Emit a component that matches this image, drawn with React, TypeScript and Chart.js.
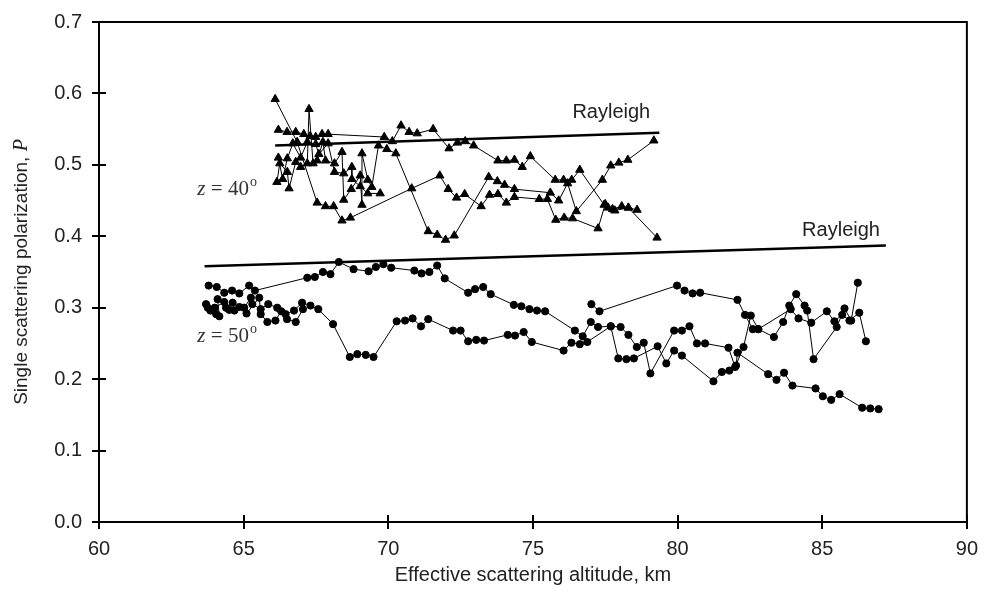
import React, { useEffect, useRef } from 'react';
import { Chart, registerables } from 'chart.js';

Chart.register(...registerables);

// ---------- axes ----------
const X_MIN = 60;
const X_MAX = 90;
const X_STEP = 5;
const Y_MIN = 0;
const Y_MAX = 0.7;
const Y_STEP = 0.1;

// ---------- z = 40° (triangles) ----------
const tri1: number[][] = [
  [66.2, 0.549], [66.5, 0.546], [66.8, 0.546], [67.08, 0.543], [67.3, 0.54], [67.49, 0.539],
  [67.71, 0.543], [67.92, 0.543], [69.86, 0.539], [70.14, 0.533], [70.44, 0.555], [70.72, 0.546],
  [71.0, 0.544], [71.55, 0.55], [72.1, 0.523], [72.39, 0.531], [72.66, 0.533], [72.95, 0.527],
  [73.79, 0.506], [74.08, 0.506], [74.36, 0.507], [74.63, 0.497], [74.91, 0.512], [75.77, 0.479],
  [76.06, 0.479], [76.34, 0.479], [76.62, 0.493], [77.46, 0.444], [77.6, 0.44], [77.83, 0.436],
  [78.3, 0.44], [79.29, 0.398],
];
const tri2: number[][] = [
  [66.09, 0.592], [66.85, 0.532], [67.54, 0.447], [67.83, 0.442], [68.11, 0.442], [68.4, 0.422],
  [68.69, 0.426], [70.81, 0.467], [71.78, 0.485], [72.07, 0.466], [72.36, 0.454], [72.64, 0.459],
  [73.21, 0.442], [73.5, 0.458], [73.79, 0.459], [74.08, 0.447], [74.36, 0.455], [75.22, 0.452],
  [75.5, 0.452], [75.79, 0.423], [76.08, 0.426], [76.37, 0.425], [77.25, 0.411], [77.5, 0.445],
  [77.75, 0.438], [78.07, 0.442], [78.3, 0.44], [78.6, 0.437],
];
const tri3: number[][] = [
  [66.15, 0.476], [66.25, 0.502], [66.51, 0.49], [66.57, 0.467], [66.8, 0.504], [66.97, 0.497],
  [67.2, 0.502], [67.26, 0.578], [67.4, 0.502], [67.54, 0.506], [67.74, 0.532], [67.83, 0.506],
  [68.14, 0.502], [68.4, 0.518], [68.46, 0.451], [68.72, 0.466], [69.03, 0.485], [69.09, 0.444],
  [69.09, 0.516], [69.29, 0.479], [69.43, 0.469], [69.66, 0.527], [69.95, 0.522], [70.26, 0.516],
  [71.38, 0.407], [71.69, 0.402], [71.98, 0.395], [72.28, 0.401], [73.47, 0.483], [73.77, 0.477],
  [74.02, 0.472], [74.36, 0.466], [75.6, 0.461], [75.89, 0.45], [76.2, 0.474], [76.5, 0.435],
  [77.4, 0.479], [77.69, 0.499], [77.97, 0.503], [78.28, 0.507], [79.18, 0.534],
];
const tri4: number[][] = [
  [66.2, 0.51], [66.35, 0.48], [66.51, 0.509], [66.7, 0.53], [66.97, 0.51], [67.2, 0.532],
  [67.49, 0.529], [67.6, 0.515], [67.92, 0.53], [68.14, 0.49], [68.46, 0.488], [68.74, 0.497],
  [68.74, 0.48], [69.03, 0.47], [69.29, 0.46], [69.72, 0.46],
];

// ---------- z = 50° (circles) ----------
const circ1: number[][] = [
  [63.79, 0.331], [64.07, 0.329], [64.33, 0.321], [64.6, 0.324], [64.85, 0.32], [65.19, 0.331],
  [65.39, 0.324], [67.2, 0.342], [67.46, 0.343], [67.74, 0.35], [68.0, 0.347], [68.29, 0.364],
  [68.8, 0.354], [69.32, 0.351], [69.57, 0.357], [69.83, 0.361], [70.1, 0.356], [70.9, 0.352],
  [71.15, 0.348], [71.42, 0.35], [71.69, 0.359], [71.95, 0.341], [72.76, 0.321], [73.0, 0.326],
  [73.28, 0.329], [73.54, 0.319], [74.34, 0.304], [74.6, 0.302], [74.88, 0.298], [75.14, 0.296],
  [75.42, 0.295], [76.45, 0.268], [76.72, 0.26], [77.0, 0.28], [77.25, 0.273], [77.69, 0.274],
  [77.95, 0.229], [78.23, 0.228], [78.49, 0.229], [79.31, 0.246], [79.61, 0.222], [79.88, 0.24],
  [80.15, 0.233], [81.24, 0.197], [81.53, 0.21], [81.79, 0.212], [82.02, 0.219], [82.07, 0.237],
  [83.13, 0.207], [83.42, 0.199], [83.68, 0.209], [83.97, 0.191], [84.77, 0.187], [85.02, 0.176],
  [85.31, 0.171], [85.6, 0.179], [86.38, 0.16], [86.66, 0.159], [86.95, 0.158],
];
const circ2: number[][] = [
  [63.76, 0.3], [64.05, 0.291], [64.16, 0.288], [64.1, 0.312], [64.39, 0.3], [64.62, 0.307],
  [64.68, 0.296], [65.02, 0.3], [65.25, 0.314], [65.3, 0.305], [65.59, 0.298], [65.85, 0.305],
  [66.16, 0.3], [66.45, 0.291], [66.74, 0.296], [67.02, 0.307], [67.31, 0.303], [67.58, 0.298],
  [68.09, 0.277], [68.67, 0.231], [68.93, 0.235], [69.22, 0.234], [69.49, 0.231], [70.29, 0.281],
  [70.58, 0.282], [70.84, 0.285], [71.13, 0.274], [71.38, 0.284], [72.24, 0.268], [72.5, 0.268],
  [72.76, 0.253], [73.04, 0.255], [73.31, 0.254], [74.13, 0.262], [74.38, 0.261], [74.68, 0.266],
  [74.96, 0.252], [76.06, 0.24], [76.33, 0.251], [76.62, 0.249], [76.88, 0.252], [77.69, 0.274],
  [78.03, 0.273], [78.3, 0.262], [78.59, 0.245], [78.83, 0.251], [79.06, 0.208], [79.88, 0.268],
  [80.15, 0.268], [80.41, 0.274], [80.67, 0.25], [80.95, 0.25], [81.76, 0.244], [81.99, 0.217],
  [82.28, 0.245], [82.53, 0.289], [82.79, 0.27], [83.91, 0.298], [84.18, 0.285], [84.62, 0.279],
  [85.16, 0.295], [85.42, 0.281], [85.69, 0.29], [85.94, 0.282], [86.28, 0.293], [86.51, 0.253],
];
const circ3: number[][] = [
  [77.02, 0.305], [77.3, 0.295], [79.98, 0.331], [80.24, 0.324], [80.52, 0.32], [80.78, 0.321],
  [82.07, 0.311], [82.33, 0.29], [82.6, 0.27], [82.79, 0.27], [83.33, 0.259], [83.65, 0.28],
  [83.86, 0.303], [84.1, 0.319], [84.39, 0.303], [84.48, 0.296], [84.7, 0.228], [85.5, 0.273],
  [85.77, 0.299], [86.0, 0.282], [86.23, 0.335],
];
const circ4: number[][] = [
  [63.7, 0.305], [63.85, 0.296], [64.0, 0.3], [64.33, 0.308], [64.5, 0.297], [64.85, 0.301],
  [65.1, 0.292], [65.54, 0.314], [65.59, 0.291], [65.82, 0.28], [66.1, 0.282], [66.3, 0.295],
  [66.5, 0.284], [66.8, 0.28], [67.05, 0.298],
];

// ---------- Rayleigh reference lines ----------
const rayleigh40: number[][] = [[66.09, 0.527], [79.37, 0.545]];
const rayleigh50: number[][] = [[63.65, 0.358], [87.2, 0.387]];

// ---------- text ----------
const X_TITLE = 'Effective scattering altitude, km';
const Y_TITLE = 'Single scattering polarization, ';
const Y_TITLE_VAR = 'P';
const RAYLEIGH_TEXT = 'Rayleigh';
const Z40_VALUE = '40';
const Z50_VALUE = '50';
// anchors in data coordinates
const RAYLEIGH40_AT = [77.71, 0.565];
const RAYLEIGH50_AT = [85.65, 0.401];
const Z40_AT = [63.4, 0.458];
const Z50_AT = [63.4, 0.252];

const SANS = '"Liberation Sans", Arial, sans-serif';
const SERIF = '"Liberation Serif", "Times New Roman", serif';

const toPts = (a: number[][]) => a.map(([x, y]) => ({ x, y }));

const decorPlugin = {
  id: 'decor',
  afterDraw(chart: any) {
    const { ctx, chartArea: a, scales } = chart;
    const xs = scales.x;
    const ys = scales.y;
    ctx.save();
    // frame
    ctx.strokeStyle = '#000';
    ctx.lineWidth = 2;
    ctx.strokeRect(a.left, a.top, a.right - a.left, a.bottom - a.top);
    // inner tick marks
    ctx.beginPath();
    xs.ticks.forEach((t: any) => {
      const px = Math.round(xs.getPixelForValue(t.value));
      ctx.moveTo(px, a.bottom);
      ctx.lineTo(px, a.bottom - 7);
    });
    ys.ticks.forEach((t: any) => {
      const py = Math.round(ys.getPixelForValue(t.value));
      ctx.moveTo(a.left, py);
      ctx.lineTo(a.left + 7, py);
    });
    ctx.stroke();

    // x title
    ctx.fillStyle = '#222';
    ctx.font = `20px ${SANS}`;
    ctx.textAlign = 'center';
    ctx.textBaseline = 'middle';
    ctx.fillText(X_TITLE, (a.left + a.right) / 2, 575);

    // y title (rotated, mixed fonts)
    ctx.save();
    ctx.translate(20, (a.top + a.bottom) / 2);
    ctx.rotate(-Math.PI / 2);
    ctx.font = `19px ${SANS}`;
    const w1 = ctx.measureText(Y_TITLE).width;
    ctx.font = `italic 20px ${SERIF}`;
    const w2 = ctx.measureText(Y_TITLE_VAR).width;
    const start = -(w1 + w2) / 2;
    ctx.textAlign = 'left';
    ctx.textBaseline = 'alphabetic';
    ctx.font = `19px ${SANS}`;
    ctx.fillText(Y_TITLE, start, 7);
    ctx.font = `italic 20px ${SERIF}`;
    ctx.fillText(Y_TITLE_VAR, start + w1, 7);
    ctx.restore();

    // Rayleigh labels
    ctx.fillStyle = '#222';
    ctx.font = `20px ${SANS}`;
    ctx.textAlign = 'center';
    ctx.textBaseline = 'alphabetic';
    ctx.fillText(RAYLEIGH_TEXT, xs.getPixelForValue(RAYLEIGH40_AT[0]), ys.getPixelForValue(RAYLEIGH40_AT[1]));
    ctx.fillText(RAYLEIGH_TEXT, xs.getPixelForValue(RAYLEIGH50_AT[0]), ys.getPixelForValue(RAYLEIGH50_AT[1]));

    // zenith-angle labels
    const drawZ = (at: number[], val: string) => {
      let x = xs.getPixelForValue(at[0]);
      const y = ys.getPixelForValue(at[1]);
      ctx.fillStyle = '#333';
      ctx.textAlign = 'left';
      ctx.textBaseline = 'alphabetic';
      ctx.font = `italic 21px ${SERIF}`;
      ctx.fillText('z', x, y);
      x += ctx.measureText('z').width;
      ctx.font = `21px ${SERIF}`;
      const s = ' = ' + val;
      ctx.fillText(s, x, y);
      x += ctx.measureText(s).width;
      ctx.font = `14px ${SERIF}`;
      ctx.fillText('o', x + 1, y - 9);
    };
    drawZ(Z40_AT, Z40_VALUE);
    drawZ(Z50_AT, Z50_VALUE);
    ctx.restore();
  },
};

export default function App() {
  const ref = useRef<HTMLCanvasElement | null>(null);

  useEffect(() => {
    if (!ref.current) return;
    const triangle = (d: number[][]) => ({
      data: toPts(d),
      showLine: true,
      borderColor: '#000',
      borderWidth: 1,
      backgroundColor: '#000',
      pointStyle: 'triangle',
      pointRadius: 4.8,
      pointBorderWidth: 1,
      pointBorderColor: '#000',
      pointBackgroundColor: '#000',
    });
    const circle = (d: number[][]) => ({
      data: toPts(d),
      showLine: true,
      borderColor: '#000',
      borderWidth: 1,
      backgroundColor: '#000',
      pointStyle: 'circle',
      pointRadius: 3.6,
      pointBorderWidth: 1,
      pointBorderColor: '#000',
      pointBackgroundColor: '#000',
    });
    const ray = (d: number[][]) => ({
      data: toPts(d),
      showLine: true,
      borderColor: '#000',
      borderWidth: 2.5,
      pointRadius: 0,
    });

    const chart = new Chart(ref.current, {
      type: 'scatter',
      data: {
        datasets: [
          triangle(tri1), triangle(tri2), triangle(tri3), triangle(tri4),
          circle(circ1), circle(circ2), circle(circ3), circle(circ4),
          ray(rayleigh40), ray(rayleigh50),
        ] as any,
      },
      options: {
        responsive: false,
        animation: false,
        devicePixelRatio: 1,
        layout: { padding: { left: 0, right: 14, top: 17, bottom: 0 } },
        elements: { line: { tension: 0 } },
        plugins: { legend: { display: false }, tooltip: { enabled: false } },
        scales: {
          x: {
            type: 'linear',
            min: X_MIN,
            max: X_MAX,
            ticks: {
              stepSize: X_STEP,
              padding: 8,
              color: '#222',
              font: { family: SANS, size: 20 },
            },
            grid: { display: true, drawOnChartArea: false, drawTicks: true, tickLength: 7, color: '#000', lineWidth: 2 },
            border: { display: true, color: '#000', width: 2 },
            afterFit: (s: any) => { s.height = 76; },
          },
          y: {
            type: 'linear',
            min: Y_MIN,
            max: Y_MAX,
            ticks: {
              stepSize: Y_STEP,
              padding: 10,
              color: '#222',
              font: { family: SANS, size: 20 },
              callback: (v: any) => Number(v).toFixed(1),
            },
            grid: { display: true, drawOnChartArea: false, drawTicks: true, tickLength: 7, color: '#000', lineWidth: 2 },
            border: { display: true, color: '#000', width: 2 },
            afterFit: (s: any) => { s.width = 99; },
          },
        },
      } as any,
      plugins: [decorPlugin],
    });
    return () => chart.destroy();
  }, []);

  return (
    <div style={{ position: 'absolute', left: 0, top: 0, width: 986, height: 598, background: '#fff' }}>
      <canvas ref={ref} width={986} height={598} style={{ width: 986, height: 598, display: 'block' }} />
    </div>
  );
}
